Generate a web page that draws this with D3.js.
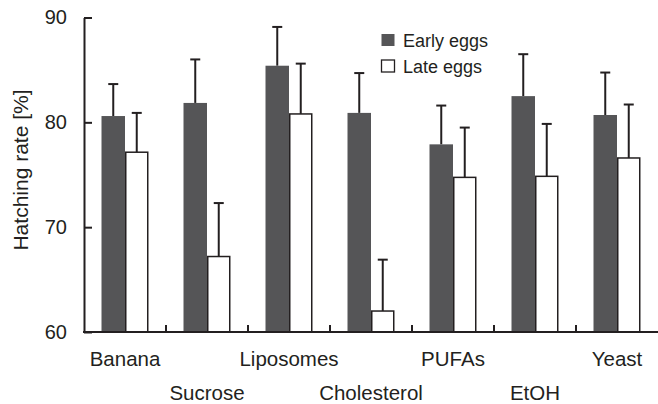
<!DOCTYPE html>
<html>
<head>
<meta charset="utf-8">
<script src="https://cdn.jsdelivr.net/npm/d3@7"></script>
<style>
  html, body { margin: 0; padding: 0; background: #fff; }
  svg { display: block; font-family: "Liberation Sans", Arial, sans-serif; }
</style>
</head>
<body>
<svg id="chart" width="658" height="404"></svg>
<script>
// Hatching rate per diet, early vs late eggs (mean and upper error)
const categories = ["Banana", "Sucrose", "Liposomes", "Cholesterol", "PUFAs", "EtOH", "Yeast"];
const series = ["Early eggs", "Late eggs"];
const earlyMeans = [80.6, 81.85, 85.4, 80.9, 77.9, 82.5, 80.7];
const earlyErrors = [3.05, 4.15, 3.7, 3.8, 3.7, 4.0, 4.05];
const lateMeans = [77.15, 67.2, 80.8, 62.0, 74.75, 74.85, 76.6];
const lateErrors = [3.75, 5.1, 4.8, 4.9, 4.75, 5.0, 5.1];
const yTicks = [60, 70, 80, 90];

const svg = d3.select("#chart");
const ink = "#231f20";
const darkFill = "#555557";

const x = d3.scaleBand().domain(categories).range([84, 658]).paddingInner(0).paddingOuter(0);
const xs = d3.scaleBand().domain(series).range([0, x.bandwidth()]).paddingInner(0).paddingOuter(0.745);
const y = d3.scaleLinear().domain([60, 90]).range([332, 17.5]);

const rows = categories.map((c, i) => ([
  { cat: c, s: series[0], v: earlyMeans[i], e: earlyErrors[i] },
  { cat: c, s: series[1], v: lateMeans[i], e: lateErrors[i] }
])).flat();

// error bars (upper whisker only), drawn beneath the bars
const eb = svg.append("g").attr("stroke", ink).attr("stroke-width", 2);
rows.forEach(d => {
  const cx = x(d.cat) + xs(d.s) + xs.bandwidth() / 2;
  eb.append("line").attr("x1", cx).attr("x2", cx).attr("y1", y(d.v)).attr("y2", y(d.v + d.e));
  eb.append("line").attr("x1", cx - 5).attr("x2", cx + 5).attr("y1", y(d.v + d.e)).attr("y2", y(d.v + d.e));
});

// bars
svg.append("g").selectAll("rect").data(rows).join("rect")
  .attr("x", d => x(d.cat) + xs(d.s) + (d.s === series[1] ? 0.75 : 0))
  .attr("y", d => y(d.v))
  .attr("width", d => xs.bandwidth() - (d.s === series[1] ? 1.5 : 0))
  .attr("height", d => y(60) - y(d.v))
  .attr("fill", d => d.s === series[0] ? darkFill : "#fff")
  .attr("stroke", d => d.s === series[0] ? "none" : ink)
  .attr("stroke-width", 1.5);

// y axis with inward ticks
const yAxis = svg.append("g").attr("transform", "translate(84,0)")
  .call(d3.axisLeft(y).tickValues(yTicks).tickSizeInner(-8).tickSizeOuter(0).tickPadding(17));
yAxis.select(".domain").attr("stroke", ink).attr("stroke-width", 2);
yAxis.selectAll(".tick line").attr("stroke", ink).attr("stroke-width", 2);
yAxis.selectAll(".tick text").attr("font-size", 20).attr("fill", ink)
  .attr("font-family", "Liberation Sans, Arial, sans-serif");

// x axis baseline and category separators
svg.append("line").attr("x1", 83).attr("x2", 658).attr("y1", y(60)).attr("y2", y(60))
  .attr("stroke", ink).attr("stroke-width", 2);
svg.append("g").selectAll("line").data(categories.slice(1)).join("line")
  .attr("x1", d => x(d)).attr("x2", d => x(d))
  .attr("y1", y(60)).attr("y2", y(60) - 7)
  .attr("stroke", ink).attr("stroke-width", 2);

// category labels on two staggered rows
svg.append("g").selectAll("text").data(categories).join("text")
  .attr("x", d => x(d) + x.bandwidth() / 2)
  .attr("y", (d, i) => i % 2 === 0 ? 366 : 400)
  .attr("text-anchor", "middle")
  .attr("font-size", 20.5)
  .attr("fill", ink)
  .text(d => d);

// y axis title
svg.append("text")
  .attr("transform", "translate(28,170) rotate(-90)")
  .attr("text-anchor", "middle")
  .attr("font-size", 21)
  .attr("fill", ink)
  .text("Hatching rate [%]");

// legend
const legend = svg.append("g");
series.forEach((s, i) => {
  const ly = 34 + i * 26;
  legend.append("rect").attr("x", 381.5).attr("y", ly).attr("width", 13).attr("height", 12)
    .attr("fill", i === 0 ? darkFill : "#fff")
    .attr("stroke", i === 0 ? "none" : ink).attr("stroke-width", 1.3);
  legend.append("text").attr("x", 403).attr("y", ly + 12.5)
    .attr("font-size", 18).attr("fill", ink).text(s);
});
</script>
</body>
</html>
